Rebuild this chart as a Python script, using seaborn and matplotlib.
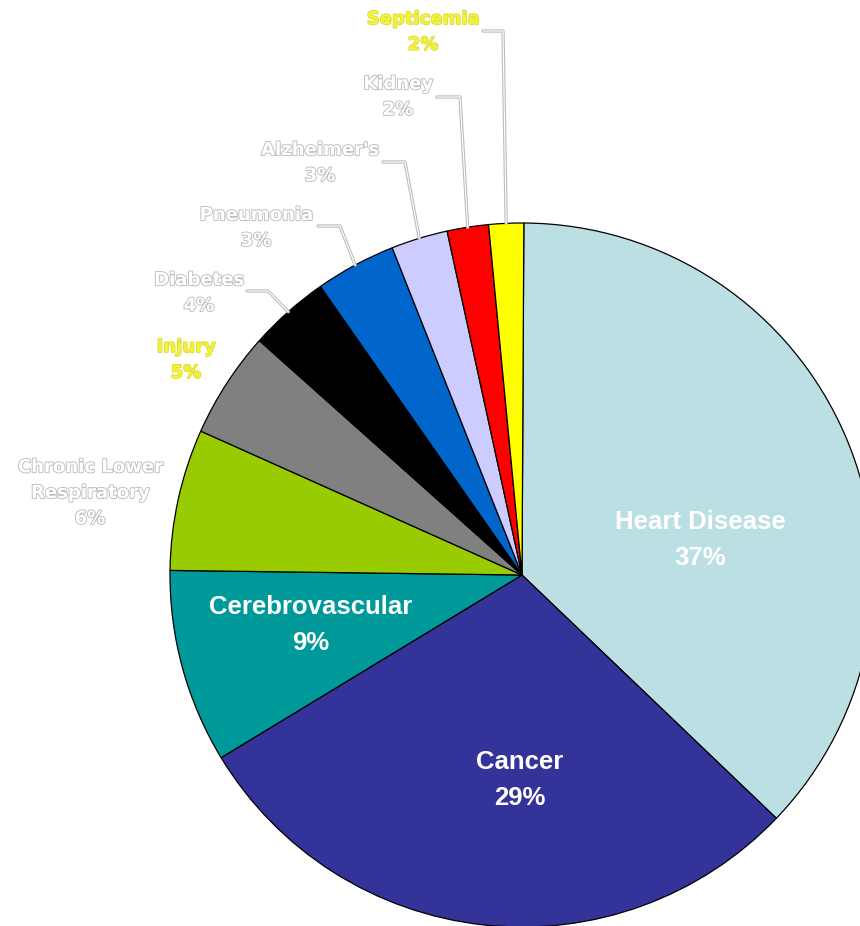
import numpy as np
import matplotlib
matplotlib.use("Agg")
import matplotlib.pyplot as plt
import matplotlib.patheffects as pe
import seaborn as sns

causes = ["Heart Disease", "Cancer", "Cerebrovascular", "Chronic Lower\nRespiratory",
          "Injury", "Diabetes", "Pneumonia", "Alzheimer's", "Kidney", "Septicemia"]
shares = [37.1, 29.2, 8.9, 6.5, 4.9, 3.7, 3.7, 2.6, 1.9, 1.6]
pct_labels = ["37%", "29%", "9%", "6%", "5%", "4%", "3%", "3%", "2%", "2%"]
colors = ["#BBDFE2", "#333399", "#009999", "#99CC00", "#808080",
          "#000000", "#0066CC", "#CCCCFF", "#FF0000", "#FFFF00"]

sns.set_style("white")

W, H = 860, 926
fig = plt.figure(figsize=(W / 100, H / 100), dpi=100)
ax = fig.add_axes([0, 0, 1, 1])

cx, cy, r = 522, H - 575, 352
wedges, _ = ax.pie(shares, colors=colors, startangle=89.7, counterclock=False,
                   center=(cx, cy), radius=r, frame=True,
                   wedgeprops=dict(edgecolor="black", linewidth=0.9))
ax.set_xlim(0, W)
ax.set_ylim(0, H)
ax.axis("off")

# labels inside the big slices
inner = {0: (700, 540), 1: (520, 780), 2: (311, 625)}
for i, (px, py) in inner.items():
    ax.text(px, H - py, causes[i] + "\n" + pct_labels[i], color="white",
            fontsize=18.5, fontweight="bold", family="Liberation Sans",
            ha="center", va="center", linespacing=1.6)

# hollow outer labels
gray_fx = [pe.withStroke(linewidth=1.3, foreground="#BDBDBD")]
yel_fx = [pe.withStroke(linewidth=1.0, foreground="#D8D82C")]
outer = {3: (90, 493), 4: (186, 360), 5: (199, 293), 6: (256, 228),
         7: (320, 163), 8: (398, 97), 9: (423, 32)}
for i, (px, py) in outer.items():
    yellow = i in (4, 9)
    ax.text(px, H - py, causes[i] + "\n" + pct_labels[i],
            color="#F2F23A" if yellow else "white",
            path_effects=yel_fx if yellow else gray_fx,
            fontsize=13, fontweight="bold", family="DejaVu Sans",
            ha="center", va="center", linespacing=1.55)

# leader lines from label to the middle of the slice rim
leaders = {5: (247, 268, 291), 6: (318, 340, 226), 7: (383, 405, 162),
           8: (437, 460, 97), 9: (483, 503, 31)}
line_fx = [pe.Stroke(linewidth=2.4, foreground="#BDBDBD"), pe.Normal()]
for i, (x0, x1, py) in leaders.items():
    w = wedges[i]
    th = np.deg2rad((w.theta1 + w.theta2) / 2)
    ex, ey = cx + r * np.cos(th), cy + r * np.sin(th)
    ax.plot([x0, x1, ex], [H - py, H - py, ey], color="white", linewidth=0.8,
            path_effects=line_fx, solid_joinstyle="round")

fig.savefig("out.png", dpi=100)
